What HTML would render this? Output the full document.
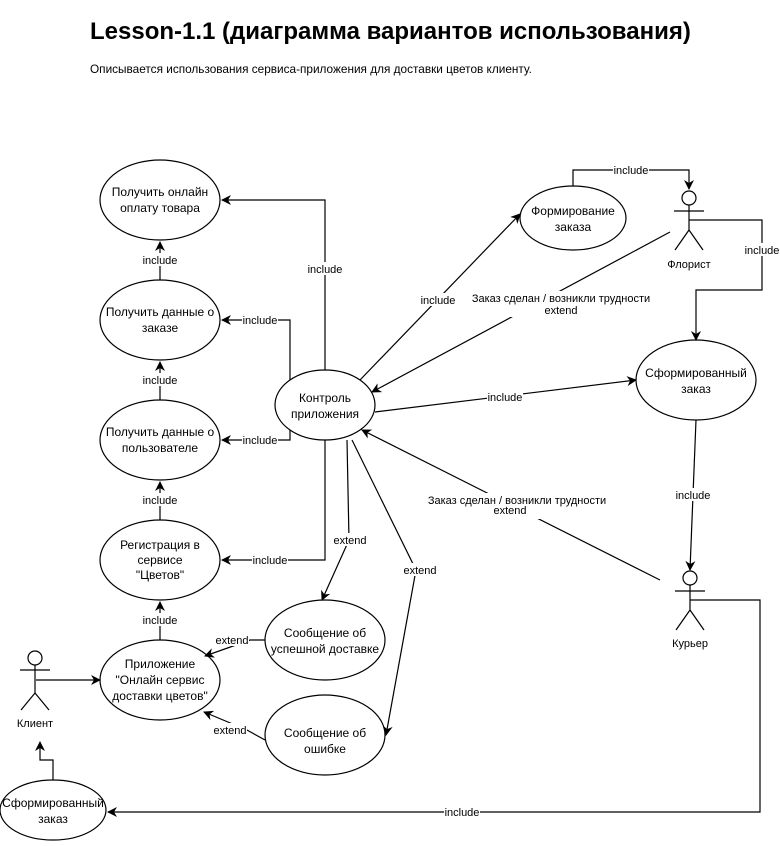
<!DOCTYPE html>
<html><head><meta charset="utf-8"><style>
body{margin:0;background:#fff;width:780px;height:841px;overflow:hidden}
svg text{font-family:"Liberation Sans","DejaVu Sans",sans-serif}
</style></head><body>
<svg width="780" height="841" xmlns="http://www.w3.org/2000/svg">
<defs><marker id="a" markerWidth="10" markerHeight="10" refX="9" refY="5" orient="auto" markerUnits="userSpaceOnUse"><path d="M0,0 L10,5 L0,10 L3,5 z" fill="#000"/></marker></defs>
<text x="90" y="39" font-size="24" font-weight="bold">Lesson-1.1 (диаграмма вариантов использования)</text>
<text x="90" y="73" font-size="11.8">Описывается использования сервиса-приложения для доставки цветов клиенту.</text>
<g fill="none" stroke="#000" stroke-width="1.2">
<ellipse cx="160" cy="200" rx="60" ry="40" fill="#fff"/>
<ellipse cx="160" cy="320" rx="60" ry="40"/>
<ellipse cx="160" cy="440" rx="60" ry="40"/>
<ellipse cx="160" cy="560" rx="60" ry="40"/>
<ellipse cx="160" cy="680" rx="60" ry="40"/>
<ellipse cx="325" cy="405" rx="50" ry="35"/>
<ellipse cx="573" cy="218" rx="53" ry="32"/>
<ellipse cx="696" cy="380" rx="60" ry="40"/>
<ellipse cx="325" cy="640" rx="60" ry="40"/>
<ellipse cx="325" cy="735" rx="60" ry="40"/>
<ellipse cx="53" cy="810" rx="53" ry="30"/>
<circle cx="689" cy="198" r="7"/><path d="M689,205V230M674,211H704M689,230L675,250M689,230L703,250"/>
<circle cx="690" cy="578" r="7"/><path d="M690,585V610M675,591H705M690,610L676,630M690,610L704,630"/>
<circle cx="35" cy="658" r="7"/><path d="M35,665V693M20,670H50M35,693L21,710M35,693L49,710"/>
<path d="M160,280V242" marker-end="url(#a)"/>
<path d="M160,400V362" marker-end="url(#a)"/>
<path d="M160,520V482" marker-end="url(#a)"/>
<path d="M160,640V602" marker-end="url(#a)"/>
<path d="M325,370V200H222" marker-end="url(#a)"/>
<path d="M290,380V320H222" marker-end="url(#a)"/>
<path d="M290,430V440H222" marker-end="url(#a)"/>
<path d="M325,440V560H222" marker-end="url(#a)"/>
<path d="M347,440L349,540L322,600" marker-end="url(#a)"/>
<path d="M352,440L416,570L386,735" marker-end="url(#a)"/>
<path d="M360,380L520,214" marker-end="url(#a)"/>
<path d="M670,232L372,392" marker-end="url(#a)"/>
<path d="M375,412L636,380" marker-end="url(#a)"/>
<path d="M660,580L362,430" marker-end="url(#a)"/>
<path d="M696,420L690,570" marker-end="url(#a)"/>
<path d="M573,186V170H689V189" marker-end="url(#a)"/>
<path d="M689,220H762V290H696V340" marker-end="url(#a)"/>
<path d="M690,600H760V812H108" marker-end="url(#a)"/>
<path d="M53,780V760H40V742" marker-end="url(#a)"/>
<path d="M36,680H100" marker-end="url(#a)"/>
<path d="M265,640H250L205,656" marker-end="url(#a)"/>
<path d="M265,740L247,730L204,712" marker-end="url(#a)"/>
</g>
<g font-size="11" text-anchor="middle">
<g fill="#fff"><rect x="142" y="253" width="36" height="13"/><rect x="142" y="373" width="36" height="13"/><rect x="142" y="493" width="36" height="13"/><rect x="142" y="613" width="36" height="13"/><rect x="307" y="262" width="36" height="13"/><rect x="242" y="313" width="36" height="13"/><rect x="242" y="433" width="36" height="13"/><rect x="252" y="553" width="36" height="13"/><rect x="333" y="533" width="34" height="13"/><rect x="402" y="563" width="34" height="13"/><rect x="420" y="293" width="36" height="13"/><rect x="470" y="291" width="182" height="26"/><rect x="487" y="390" width="36" height="13"/><rect x="420" y="493" width="190" height="26"/><rect x="675" y="488" width="36" height="13"/><rect x="613" y="163" width="36" height="13"/><rect x="744" y="243" width="36" height="13"/><rect x="444" y="805" width="36" height="13"/><rect x="215" y="633" width="34" height="13"/><rect x="213" y="723" width="34" height="13"/></g>
<text x="160" y="264">include</text><text x="160" y="384">include</text><text x="160" y="504">include</text><text x="160" y="624">include</text>
<text x="325" y="273">include</text><text x="260" y="324">include</text><text x="260" y="444">include</text><text x="270" y="564">include</text>
<text x="350" y="544">extend</text><text x="420" y="574">extend</text>
<text x="438" y="304">include</text>
<text x="561" y="302">Заказ сделан / возникли трудности</text><text x="561" y="314">extend</text>
<text x="505" y="401">include</text>
<text x="517" y="504">Заказ сделан / возникли трудности</text><text x="510" y="514">extend</text>
<text x="693" y="499">include</text><text x="631" y="174">include</text><text x="762" y="254">include</text><text x="462" y="816">include</text>
<text x="232" y="644">extend</text><text x="230" y="734">extend</text>
<text x="689" y="268">Флорист</text><text x="690" y="647">Курьер</text><text x="35" y="727">Клиент</text>
</g>
<g font-size="12" text-anchor="middle">
<text x="160" y="196">Получить онлайн</text><text x="160" y="212">оплату товара</text>
<text x="160" y="316">Получить данные о</text><text x="160" y="332">заказе</text>
<text x="160" y="436">Получить данные о</text><text x="160" y="452">пользователе</text>
<text x="160" y="549">Регистрация в</text><text x="160" y="564">сервисе</text><text x="160" y="579">"Цветов"</text>
<text x="160" y="668">Приложение</text><text x="160" y="684">"Онлайн сервис</text><text x="160" y="700">доставки цветов"</text>
<text x="325" y="402">Контроль</text><text x="325" y="418">приложения</text>
<text x="573" y="215">Формирование</text><text x="573" y="231">заказа</text>
<text x="696" y="377">Сформированный</text><text x="696" y="393">заказ</text>
<text x="325" y="637">Сообщение об</text><text x="325" y="653">успешной доставке</text>
<text x="325" y="737">Сообщение об</text><text x="325" y="753">ошибке</text>
<text x="53" y="807">Сформированный</text><text x="53" y="823">заказ</text>
</g>
</svg>
</body></html>
